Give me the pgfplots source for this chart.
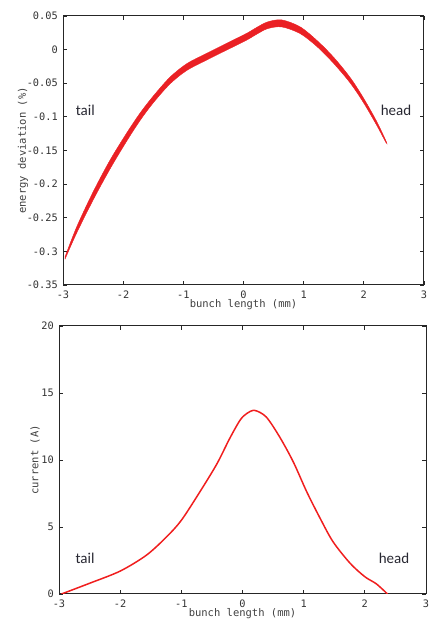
\documentclass[border=0pt]{standalone}
\usepackage{pgfplots}
\pgfplotsset{compat=1.18}
\usepackage{pgfplotstable}
\usepackage{fontspec}
\setmainfont{Liberation Sans}
\newfontfamily\monofont{DejaVu Sans Mono}
\newfontfamily\calfont{Carlito}
\definecolor{bandred}{RGB}{234,32,36}
\definecolor{linered}{RGB}{240,30,30}
\definecolor{txt}{RGB}{40,40,50}

% outline of the scattered band: upper edge forward, lower edge back
\pgfplotstableread{
x y
-2.967 -0.3083
-2.772 -0.2635
-2.496 -0.2110
-2.219 -0.1645
-1.941 -0.1240
-1.720 -0.0945
-1.499 -0.0690
-1.222 -0.0410
-0.944 -0.0210
-0.612 -0.0055
-0.279 0.0094
0.053 0.0242
0.22 0.0330
0.40 0.0412
0.635 0.0442
0.939 0.0340
1.217 0.0139
1.493 -0.0109
1.770 -0.0412
1.991 -0.0715
2.213 -0.1067
2.368 -0.1358
2.368 -0.1382
2.213 -0.1123
1.991 -0.0783
1.770 -0.0492
1.493 -0.0199
1.217 0.0049
0.939 0.0240
0.635 0.0338
0.40 0.0312
0.22 0.0230
0.053 0.0142
-0.279 -0.0006
-0.612 -0.0155
-0.944 -0.0310
-1.222 -0.0510
-1.499 -0.0790
-1.720 -0.1055
-1.941 -0.1360
-2.219 -0.1775
-2.496 -0.2230
-2.772 -0.2725
-2.967 -0.3117
}\energy

\pgfplotstableread{
x I
-2.96 0.0
-2.50 0.8
-2.00 1.71
-1.57 2.9
-1.24 4.27
-1.00 5.5
-0.70 7.6
-0.42 9.7
-0.21 11.6
-0.04 12.97
0.07 13.47
0.20 13.7
0.39 13.2
0.61 11.7
0.83 9.86
1.05 7.63
1.27 5.64
1.48 3.9
1.76 2.29
2.00 1.29
2.19 0.75
2.37 0.0
}\current

\begin{document}
\begin{tikzpicture}
\path[use as bounding box] (0pt,0pt) rectangle (430pt,621pt);
\pgfplotsset{mat/.style={
  scale only axis,
  axis line style={line width=1pt, black!85},
  every tick/.style={black!85, line width=0.8pt},
  major tick length=4pt,
  tick align=inside,
  xmin=-3, xmax=3, xtick={-3,...,3},
  ticklabel style={font=\monofont\fontsize{10.3}{10.3}\selectfont, text=black!80, inner sep=1pt},
  xticklabel style={yshift=-5pt},
  yticklabel style={xshift=-4pt},
  /pgf/number format/assume math mode=true,
  label style={font=\monofont\fontsize{10.5}{10.5}\selectfont, text=black!75},
  xlabel style={at={(axis description cs:0.5,0)}, anchor=center, yshift=-20pt},
  scaled y ticks=false,
}}
\begin{axis}[mat,
  at={(63pt,336pt)}, anchor=south west,
  width=361pt, height=269pt,
  ymin=-0.35, ymax=0.05, ytick={-0.35,-0.3,-0.25,-0.2,-0.15,-0.1,-0.05,0,0.05},
  yticklabel style={/pgf/number format/fixed, /pgf/number format/precision=2},
  xlabel={bunch length (mm)},
  ylabel={energy deviation (\%)},
  ylabel style={at={(axis description cs:-0.111,0.5)}, anchor=center},
]
\addplot[fill=bandred, draw=bandred, line width=0.4pt, smooth] table[x=x, y=y] {\energy};
\node[font=\calfont\fontsize{15}{15}\selectfont, text=txt] at (axis cs:-2.63,-0.09) {tail};
\node[font=\calfont\fontsize{15}{15}\selectfont, text=txt] at (axis cs:2.535,-0.09) {head};
\end{axis}
\begin{axis}[mat,
  at={(59pt,27pt)}, anchor=south west,
  width=367pt, height=268pt,
  ymin=0, ymax=20, ytick={0,5,...,20},
  xlabel={bunch length (mm)},
  ylabel={current (A)},
  ylabel style={at={(axis description cs:-0.0654,0.5)}, anchor=center},
]
\addplot[draw=linered, line width=1.5pt, smooth] table[x=x, y=I] {\current};
\node[font=\calfont\fontsize{15}{15}\selectfont, text=txt] at (axis cs:-2.575,2.69) {tail};
\node[font=\calfont\fontsize{15}{15}\selectfont, text=txt] at (axis cs:2.477,2.69) {head};
\end{axis}
\end{tikzpicture}
\end{document}
